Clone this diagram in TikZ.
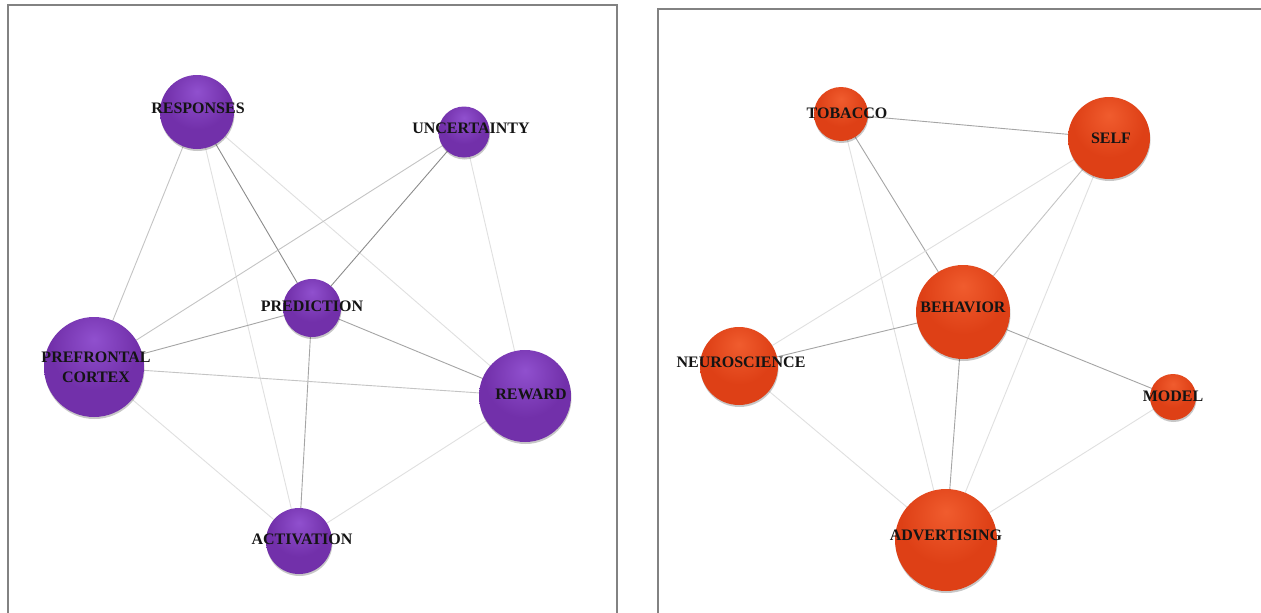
\documentclass[tikz,border=0pt]{standalone}
\usepackage{fontspec}
\setmainfont{Liberation Serif}
\usetikzlibrary{backgrounds,shadows}

% sphere colours
\definecolor{pLight}{RGB}{144,80,206}
\definecolor{pMid}{RGB}{114,48,170}
\definecolor{pDark}{RGB}{94,34,144}
\definecolor{oLight}{RGB}{240,92,46}
\definecolor{oMid}{RGB}{222,64,22}
\definecolor{oDark}{RGB}{198,48,12}
% link colours, from strong to faint
\definecolor{eDark}{RGB}{140,140,140}
\definecolor{eMid}{RGB}{165,165,165}
\definecolor{eLight}{RGB}{196,196,196}
\definecolor{eFaint}{RGB}{224,224,224}
\definecolor{frameGray}{RGB}{130,130,130}

\pgfdeclareradialshading{purpleball}{\pgfpoint{0bp}{14bp}}{%
  color(0bp)=(pLight); color(22bp)=(pMid); color(50bp)=(pMid);
  color(64bp)=(pDark); color(80bp)=(pDark)}
\pgfdeclareradialshading{orangeball}{\pgfpoint{0bp}{14bp}}{%
  color(0bp)=(oLight); color(22bp)=(oMid); color(50bp)=(oMid);
  color(64bp)=(oDark); color(80bp)=(oDark)}

\tikzset{
  ball/.style={circle, inner sep=0pt, minimum size=#1,
    drop shadow={shadow xshift=0.5pt, shadow yshift=-2pt, opacity=0.22, fill=black}},
  purpleball/.style={ball=#1, shading=purpleball},
  orangeball/.style={ball=#1, shading=orangeball},
  lab/.style={font=\bfseries\fontsize{16}{20}\selectfont, inner sep=0pt,
    text=black!92, align=center},
  link/.style={line width=0.9pt, draw=#1},
  panel/.style={draw=frameGray, line width=1.4pt}
}

\begin{document}
\begin{tikzpicture}[x=1pt, y=-1pt]
\useasboundingbox (0,0) rectangle (1261,613);

% panel frames (open at the bottom)
\draw[panel] (8,613) -- (8,5) -- (617,5) -- (617,613);
\draw[panel] (658,613) -- (658,9) -- (1261,9);

% ---- left network ----
\node[purpleball=74pt] (resp) at (197,112) {};
\node[purpleball=51pt] (unc)  at (464,132) {};
\node[purpleball=58pt] (pred) at (312,308) {};
\node[purpleball=100pt] (pfc) at (94,367) {};
\node[purpleball=92pt] (rew)  at (525,396) {};
\node[purpleball=66pt] (act)  at (299,541) {};

\node[lab] (t-resp) at (198,108) {RESPONSES};
\node[lab] (t-unc)  at (471,128) {UNCERTAINTY};
\node[lab] (t-pred) at (312,306) {PREDICTION};
\node[lab] (t-pfc)  at (96,367) {PREFRONTAL\\CORTEX};
\node[lab] (t-rew)  at (531,394) {REWARD};
\node[lab] (t-act)  at (302,539) {ACTIVATION};

% ---- right network ----
\node[orangeball=54pt] (tob)  at (841,114) {};
\node[orangeball=82pt] (self) at (1109,138) {};
\node[orangeball=94pt] (beh)  at (963,312) {};
\node[orangeball=78pt] (neu)  at (739,366) {};
\node[orangeball=46pt] (mod)  at (1173,397) {};
\node[orangeball=102pt] (adv) at (946,540) {};

\node[lab] (t-tob)  at (847,113) {TOBACCO};
\node[lab] (t-self) at (1111,138) {SELF};
\node[lab] (t-beh)  at (963,307) {BEHAVIOR};
\node[lab] (t-neu)  at (741,362) {NEUROSCIENCE};
\node[lab] (t-mod)  at (1173,396) {MODEL};
\node[lab] (t-adv)  at (946,535) {ADVERTISING};

\begin{scope}[on background layer]
  \fill[white] (0,0) rectangle (1261,613);
  % left links
  \draw[link=eLight] (resp.center) -- (pfc.center);
  \draw[link=eFaint] (resp.center) -- (act.center);
  \draw[link=eDark]  (resp.center) -- (pred.center);
  \draw[link=eFaint] (resp.center) -- (rew.center);
  \draw[link=eLight] (unc.center)  -- (pfc.center);
  \draw[link=eDark]  (unc.center)  -- (pred.center);
  \draw[link=eFaint] (unc.center)  -- (rew.center);
  \draw[link=eMid]   (pred.center) -- (pfc.center);
  \draw[link=eMid]   (pred.center) -- (rew.center);
  \draw[link=eMid]   (pred.center) -- (act.center);
  \draw[link=eLight] (pfc.center)  -- (rew.center);
  \draw[link=eFaint] (pfc.center)  -- (act.center);
  \draw[link=eFaint] (rew.center)  -- (act.center);
  % right links
  \draw[link=eMid]   (tob.center)  -- (self.center);
  \draw[link=eMid]   (tob.center)  -- (beh.center);
  \draw[link=eFaint] (tob.center)  -- (adv.center);
  \draw[link=eLight] (self.center) -- (beh.center);
  \draw[link=eFaint] (self.center) -- (neu.center);
  \draw[link=eFaint] (self.center) -- (adv.center);
  \draw[link=eMid]   (beh.center)  -- (neu.center);
  \draw[link=eMid]   (beh.center)  -- (mod.center);
  \draw[link=eMid]   (beh.center)  -- (adv.center);
  \draw[link=eFaint] (neu.center)  -- (adv.center);
  \draw[link=eFaint] (mod.center)  -- (adv.center);
\end{scope}
\end{tikzpicture}
\end{document}
